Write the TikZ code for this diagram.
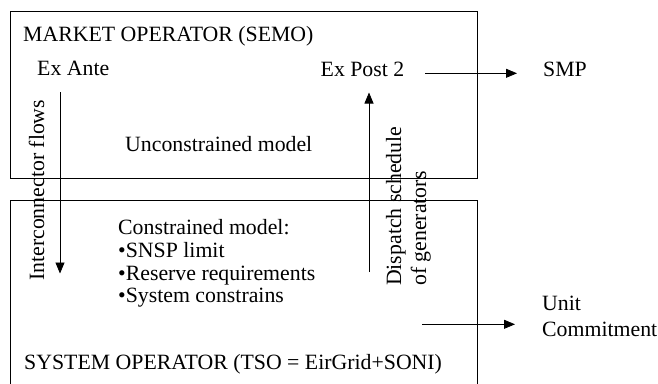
\documentclass[tikz,border=0pt]{standalone}
\usepackage{fontspec}
\setmainfont{Liberation Serif}
\usetikzlibrary{arrows.meta,positioning,calc}

\begin{document}
\begin{tikzpicture}[x=1pt,y=-1pt,
  txt/.style={inner sep=0pt,font=\fontsize{21.8}{22.6}\selectfont},
  arr/.style={-{Triangle[length=11pt,width=9pt]},line width=0.8pt},
  opbox/.style={draw,line width=0.8pt}]
\clip (0,0) rectangle (658,383);

% the two operators
\draw[opbox] (10.5,11.5) rectangle (477.5,178);
\draw[opbox] (10.5,200.5) rectangle (477.5,420);

\node[txt,anchor=base west] (semo) at (23,41) {MARKET OPERATOR (SEMO)};
\node[txt,anchor=base west] (ante) at (37,75) {Ex Ante};
\node[txt,anchor=base west] (post) at (320.5,76) {Ex Post 2};
\node[txt,anchor=base west] (smp) at (543,76) {SMP};
\node[txt,anchor=base west] (uncons) at (125,151.5) {Unconstrained model};

\node[txt,anchor=north west,align=left] (cons) at (118,219.6)
  {Constrained model:\\•SNSP limit\\•Reserve requirements\\•System constrains};
\node[txt,anchor=base west] (tso) at (24,369) {SYSTEM OPERATOR (TSO = EirGrid+SONI)};
\node[txt,anchor=west,align=left,font=\fontsize{21.8}{26.6}\selectfont] (uc) at (542,316.5)
  {Unit\\Commitment};

\node[txt,anchor=base west,rotate=90] (flows) at (44,281) {Interconnector flows};
\node[txt,anchor=base west,rotate=90] (disp) at (401,286) {Dispatch schedule};
\node[txt,anchor=base west,rotate=90] (gens) at (426,286) {of generators};

\coordinate (anteTop) at (60,92);
\coordinate (anteEnd) at (60,273.5);
\coordinate (dispStart) at (369,272);
\coordinate (postEnd) at (369,92.5);
\coordinate (smpStart) at (425,73.3);
\coordinate (ucStart) at (422,324.3);

\draw[arr] (anteTop) -- (anteEnd);
\draw[arr] (dispStart) -- (postEnd);
\draw[arr,shorten >=26pt] (smpStart) -- (smpStart -| smp.west);
\draw[arr,shorten >=27pt] (ucStart) -- (ucStart -| uc.west);
\end{tikzpicture}
\end{document}
